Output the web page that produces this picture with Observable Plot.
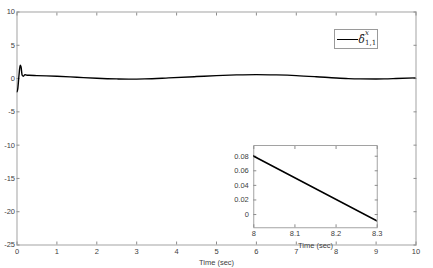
<!DOCTYPE html>
<html>
<head>
<meta charset="utf-8">
<script src="https://cdn.jsdelivr.net/npm/d3@7"></script>
<script src="https://cdn.jsdelivr.net/npm/@observablehq/plot@0.6"></script>
<style>
  body { margin: 0; background: white; }
  #wrap { position: relative; width: 433px; height: 268px; overflow: hidden; background: white; }
  #inset { position: absolute; left: 230px; top: 140px; }
  #legend { position: absolute; left: 334px; top: 29px; width: 42px; height: 18px; border: 1px solid #9a9a9a; background: white; font-family: "DejaVu Serif", "Liberation Serif", serif; color: #222; }
  #legend .ln { position: absolute; left: 1.5px; top: 9px; width: 21px; height: 0; border-top: 1.6px solid black; }
  #legend .d { position: absolute; left: 23.5px; top: 4px; font-size: 10.5px; font-style: italic; line-height: 11px; }
  #legend .sup { position: absolute; left: 30px; top: 0px; font-size: 7px; font-style: italic; line-height: 7px; }
  #legend .sub { position: absolute; left: 30px; top: 9.5px; font-size: 7px; line-height: 7px; }
</style>
</head>
<body>
<div id="wrap">
  <div id="main"></div>
  <div id="inset"></div>
  <div id="legend"><div class="ln"></div><span class="d">δ̂</span><span class="sup">x</span><span class="sub">1,1</span></div>
</div>
<script>
// data
const time  = [0, 0.02, 0.05, 0.08, 0.1, 0.13, 0.16, 0.2, 0.25, 0.3, 0.5, 1, 1.5, 2, 2.5, 2.8, 3.2, 3.8, 4.5, 5, 5.5, 6, 6.5, 7, 7.5, 8, 8.3, 8.6, 9, 9.2, 9.5, 10];
const value = [-2, -1.5, 0.5, 2.0, 1.8, 0.5, 0.35, 0.6, 0.5, 0.5, 0.45, 0.35, 0.2, 0.05, -0.05, -0.08, -0.05, 0.1, 0.3, 0.45, 0.55, 0.6, 0.55, 0.45, 0.28, 0.08, -0.009, -0.05, -0.06, -0.05, 0.0, 0.1];
const xTicks = [0, 1, 2, 3, 4, 5, 6, 7, 8, 9, 10];
const yTicks = [-25, -20, -15, -10, -5, 0, 5, 10];
const insetXTicks = [8, 8.1, 8.2, 8.3];
const insetYTicks = [0, 0.02, 0.04, 0.06, 0.08];
const xLabel = "Time (sec)";

const data = time.map((t, i) => ({t, v: value[i]}));
const fmt = d => String(d);
const axisColor = "#8c8c8c";
const font = "'Liberation Sans', Arial, Helvetica, sans-serif";

const main = Plot.plot({
  width: 433, height: 268,
  marginLeft: 16.5, marginRight: 17.5, marginTop: 11.5, marginBottom: 23.5,
  x: {domain: [0, 10]},
  y: {domain: [-25, 10]},
  style: {fontFamily: font, fontSize: "7.5px", color: "#404040", background: "white", overflow: "visible"},
  marks: [
    Plot.frame({stroke: axisColor, strokeWidth: 0.8}),
    Plot.axisX(xTicks, {anchor: "bottom", tickSize: -3, stroke: axisColor, tickFormat: () => "", label: null}),
    Plot.axisX(xTicks, {anchor: "top", tickSize: -3, stroke: axisColor, tickFormat: () => "", label: null}),
    Plot.axisY(yTicks, {anchor: "left", tickSize: -3, stroke: axisColor, tickFormat: () => "", label: null}),
    Plot.axisY(yTicks, {anchor: "right", tickSize: -3, stroke: axisColor, tickFormat: () => "", label: null}),
    Plot.axisX(xTicks, {anchor: "bottom", tickSize: 0, tickPadding: 3.5, tickFormat: fmt, label: xLabel, labelAnchor: "center", labelArrow: "none", labelOffset: 20}),
    Plot.axisY(yTicks, {anchor: "left", tickSize: 0, tickPadding: 2, tickFormat: fmt, label: null}),
    Plot.line(data, {x: "t", y: "v", stroke: "black", strokeWidth: 1.4, curve: "monotone-x", clip: true})
  ]
});
document.getElementById("main").append(main);

const insetData = data.filter(d => d.t >= 7.5 && d.t <= 8.6);
const inset = Plot.plot({
  width: 160, height: 110,
  marginLeft: 23.3, marginRight: 13.3, marginTop: 5, marginBottom: 22.7,
  x: {domain: [8, 8.3]},
  y: {domain: [-0.0182, 0.0947]},
  style: {fontFamily: font, fontSize: "7.5px", color: "#404040", background: "transparent", overflow: "visible"},
  marks: [
    Plot.frame({fill: "white", stroke: axisColor, strokeWidth: 0.8}),
    Plot.axisX(insetXTicks, {anchor: "bottom", tickSize: -3, stroke: axisColor, tickFormat: () => "", label: null}),
    Plot.axisX(insetXTicks, {anchor: "top", tickSize: -3, stroke: axisColor, tickFormat: () => "", label: null}),
    Plot.axisY(insetYTicks, {anchor: "left", tickSize: -3, stroke: axisColor, tickFormat: () => "", label: null}),
    Plot.axisY(insetYTicks, {anchor: "right", tickSize: -3, stroke: axisColor, tickFormat: () => "", label: null}),
    Plot.axisX(insetXTicks, {anchor: "bottom", tickSize: 0, tickPadding: 3, tickFormat: fmt, label: xLabel, labelAnchor: "center", labelArrow: "none", labelOffset: 20.5}),
    Plot.axisY(insetYTicks, {anchor: "left", tickSize: 0, tickPadding: 5, tickFormat: fmt, label: null}),
    Plot.line(insetData, {x: "t", y: "v", stroke: "black", strokeWidth: 1.6, curve: "linear", clip: true})
  ]
});
document.getElementById("inset").append(inset);
</script>
</body>
</html>
